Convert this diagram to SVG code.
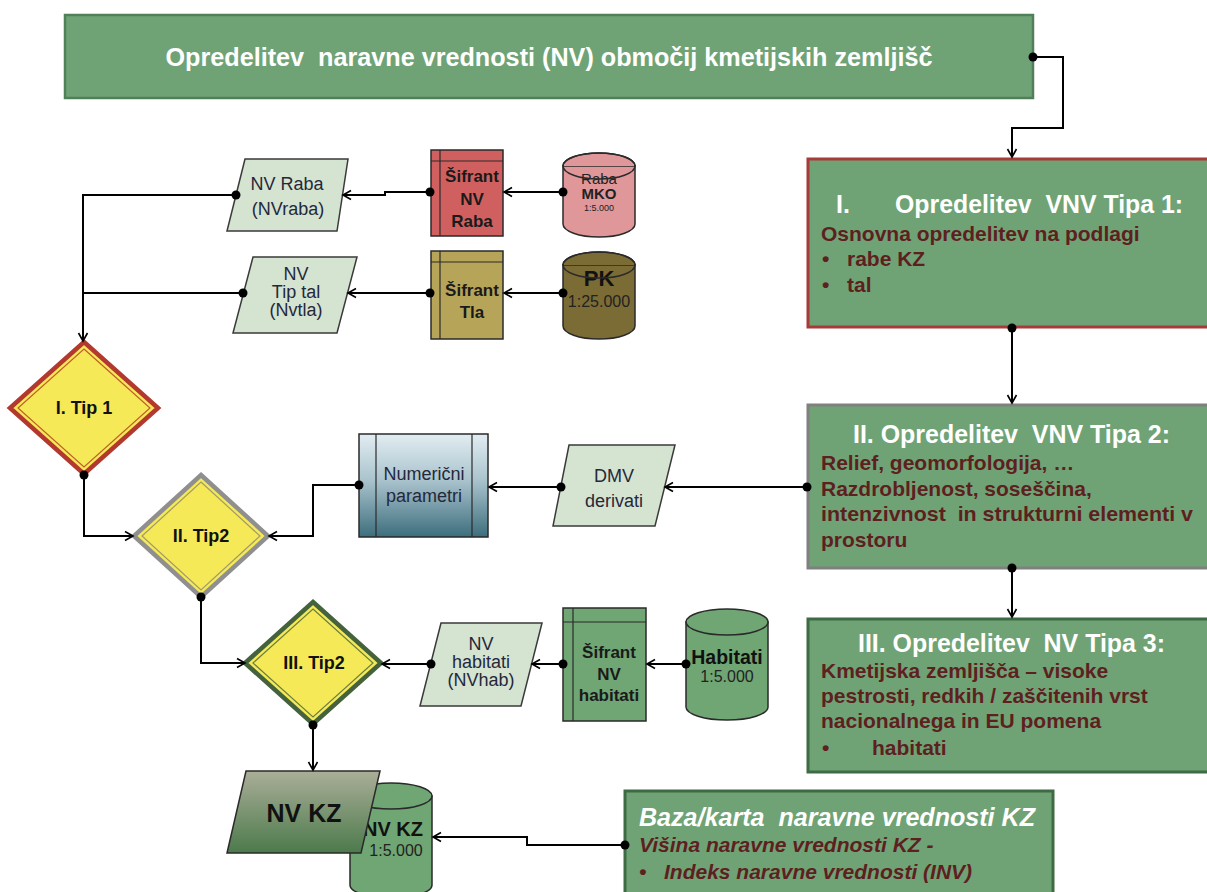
<svg xmlns="http://www.w3.org/2000/svg" width="1207" height="892" viewBox="0 0 1207 892" xml:space="preserve">
<defs>
<marker id="arr" markerUnits="userSpaceOnUse" markerWidth="12" markerHeight="12" refX="10" refY="6" orient="auto">
<path d="M2,1.5 L10,6 L2,10.5" fill="none" stroke="#000" stroke-width="1.6"/>
</marker>
<linearGradient id="gNum" x1="0" y1="0" x2="0" y2="1">
<stop offset="0" stop-color="#e2edf2"/><stop offset="0.45" stop-color="#a9c3cd"/><stop offset="1" stop-color="#3d6e7d"/>
</linearGradient>
<linearGradient id="gKZ" x1="0" y1="0" x2="0" y2="1">
<stop offset="0" stop-color="#aaae98"/><stop offset="1" stop-color="#4c7a4b"/>
</linearGradient>
</defs>
<style>
text{font-family:"Liberation Sans",Arial,sans-serif;white-space:pre}
.gbox{fill:#6fa376}
.ttl{fill:#fff;font-weight:bold;font-size:25px}
.body{fill:#5e1f1f;font-weight:bold;font-size:21px}
.lbl{fill:#25283a;font-size:18px;text-anchor:middle}
.bl{fill:#1a1a1a;font-weight:bold;font-size:17px;text-anchor:middle}
.dtx{fill:#111;font-weight:bold;font-size:18px;text-anchor:middle}
.par{fill:#d5e3d1;stroke:#3a3a3a;stroke-width:1.5}
.cyl{stroke:#2a2a2a;stroke-width:1.5}
.sif{stroke:#2a2a2a;stroke-width:1.5}
.conn path{fill:none;stroke:#000;stroke-width:2}
.conn circle{fill:#000}
</style>
<g id="title">
<rect x="65" y="15" width="968" height="83" class="gbox" stroke="#50805a" stroke-width="2.5"/>
<text x="549" y="66" class="ttl" text-anchor="middle" textLength="767" lengthAdjust="spacingAndGlyphs">Opredelitev  naravne vrednosti (NV) območij kmetijskih zemljišč</text>
</g>
<g id="box1">
<rect x="808" y="159" width="410" height="168" class="gbox" stroke="#a83a3a" stroke-width="3"/>
<text x="836" y="213" class="ttl">I.</text>
<text x="895" y="213" class="ttl" textLength="288" lengthAdjust="spacingAndGlyphs">Opredelitev  VNV Tipa 1:</text>
<text x="821" y="241" class="body">Osnovna opredelitev na podlagi</text>
<text x="822" y="266" class="body">•</text><text x="847" y="266" class="body">rabe KZ</text>
<text x="822" y="292" class="body">•</text><text x="847" y="292" class="body">tal</text>
</g>
<g id="box2">
<rect x="808" y="405" width="410" height="163" class="gbox" stroke="#808080" stroke-width="3"/>
<text x="853" y="443" class="ttl" textLength="317" lengthAdjust="spacingAndGlyphs">II. Opredelitev  VNV Tipa 2:</text>
<text x="821" y="470" class="body">Relief, geomorfologija, …</text>
<text x="821" y="496" class="body">Razdrobljenost, soseščina,</text>
<text x="821" y="521" class="body" textLength="372" lengthAdjust="spacingAndGlyphs">intenzivnost  in strukturni elementi v</text>
<text x="821" y="547" class="body">prostoru</text>
</g>
<g id="box3">
<rect x="808" y="619" width="410" height="153" class="gbox" stroke="#3e6a44" stroke-width="3"/>
<text x="858" y="652" class="ttl" textLength="307" lengthAdjust="spacingAndGlyphs">III. Opredelitev  NV Tipa 3:</text>
<text x="821" y="678" class="body">Kmetijska zemljišča – visoke</text>
<text x="821" y="703" class="body">pestrosti, redkih / zaščitenih vrst</text>
<text x="821" y="728" class="body">nacionalnega in EU pomena</text>
<text x="822" y="755" class="body">•</text><text x="872" y="755" class="body">habitati</text>
</g>
<g id="baza">
<rect x="625" y="791" width="428" height="110" class="gbox" stroke="#3e6a44" stroke-width="3"/>
<text x="639" y="826" class="ttl" font-style="italic" textLength="396" lengthAdjust="spacingAndGlyphs">Baza/karta  naravne vrednosti KZ</text>
<text x="639" y="852" class="body" font-style="italic">Višina naravne vrednosti KZ -</text>
<text x="639" y="879" class="body" font-style="italic">•</text><text x="664" y="879" class="body" font-style="italic">Indeks naravne vrednosti (INV)</text>
</g>
<g id="nv-raba">
<polygon points="245,159 348,159 337,231 227,231" class="par"/>
<text x="287" y="190" class="lbl" font-size="19">NV Raba</text>
<text x="288" y="215" class="lbl" font-size="19">(NVraba)</text>
</g>
<g id="sifrant-raba">
<rect x="431" y="150" width="72" height="86" fill="#d0605f" class="sif"/>
<line x1="440" y1="150" x2="440" y2="236" stroke="#2a2a2a" stroke-width="1.2"/>
<line x1="431" y1="161" x2="503" y2="161" stroke="#2a2a2a" stroke-width="1.2"/>
<text x="472" y="182" class="bl">Šifrant</text>
<text x="472" y="205" class="bl">NV</text>
<text x="472" y="227" class="bl">Raba</text>
</g>
<g id="raba-mko">
<path d="M563,166 V224 A36,13 0 0 0 635,224 V166 Z" fill="#e0979a" class="cyl"/>
<text x="599" y="184" fill="#222" font-size="15" text-anchor="middle">Raba</text>
<text x="599" y="199" fill="#222" font-size="15" font-weight="bold" text-anchor="middle">MKO</text>
<text x="599" y="211" fill="#222" font-size="9" text-anchor="middle">1:5.000</text>
<path d="M563,166 A36,13 0 0 1 635,166" fill="#e0979a" class="cyl"/>
<ellipse cx="599" cy="166" rx="36" ry="13" fill="none" class="cyl"/>
</g>
<g id="nv-tiptal">
<polygon points="253,257 357,257 337,333 233,333" class="par"/>
<text x="296" y="280" class="lbl" font-size="17">NV</text>
<text x="296" y="298" class="lbl" font-size="17">Tip tal</text>
<text x="296" y="316" class="lbl" font-size="17">(Nvtla)</text>
</g>
<g id="sifrant-tla">
<rect x="431" y="251" width="72" height="88" fill="#b6a559" class="sif"/>
<line x1="440" y1="251" x2="440" y2="339" stroke="#2a2a2a" stroke-width="1.2"/>
<line x1="431" y1="262" x2="503" y2="262" stroke="#2a2a2a" stroke-width="1.2"/>
<text x="472" y="296" class="bl">Šifrant</text>
<text x="472" y="318" class="bl">Tla</text>
</g>
<g id="pk">
<path d="M563,265 V326 A36,13 0 0 0 635,326 V265 Z" fill="#7b6b35" class="cyl"/>
<path d="M563,265 A36,13 0 0 1 635,265" fill="#7b6b35" class="cyl"/>
<text x="599" y="286" fill="#111" font-size="22" font-weight="bold" text-anchor="middle">PK</text>
<ellipse cx="599" cy="265" rx="36" ry="13" fill="none" class="cyl"/>
<text x="599" y="307" fill="#222" font-size="16" text-anchor="middle">1:25.000</text>
</g>
<g id="tip1">
<polygon points="84,342 158,408 84,474 10,408" fill="#f6e957" stroke="#b3382d" stroke-width="4.5"/>
<polygon points="84,349 150,408 84,467 18,408" fill="none" stroke="#c0602a" stroke-width="1.2"/>
<text x="84" y="414" class="dtx">I. Tip 1</text>
</g>
<g id="tip2">
<polygon points="201,475 268,536 201,597 134,536" fill="#f6e957" stroke="#8f8f8f" stroke-width="4.5"/>
<polygon points="201,482 260,536 201,590 142,536" fill="none" stroke="#a09a6a" stroke-width="1.2"/>
<text x="201" y="542" class="dtx">II. Tip2</text>
</g>
<g id="tip3">
<polygon points="313,602 381,663 313,724 245,663" fill="#f6e957" stroke="#44633c" stroke-width="4.5"/>
<polygon points="313,609 373,663 313,717 253,663" fill="none" stroke="#6a8040" stroke-width="1.2"/>
<text x="314" y="669" class="dtx">III. Tip2</text>
</g>
<g id="numericni">
<rect x="359" y="434" width="129" height="103" fill="url(#gNum)" class="sif"/>
<line x1="376" y1="434" x2="376" y2="537" stroke="#2a2a2a" stroke-width="1.2"/>
<line x1="472" y1="434" x2="472" y2="537" stroke="#2a2a2a" stroke-width="1.2"/>
<text x="424" y="480" class="lbl" font-size="18.5">Numerični</text>
<text x="424" y="502" class="lbl" font-size="18.5">parametri</text>
</g>
<g id="dmv">
<polygon points="569,445 675,445 655,526 553,526" class="par"/>
<text x="614" y="482" class="lbl" font-size="20">DMV</text>
<text x="614" y="507" class="lbl" font-size="20">derivati</text>
</g>
<g id="nv-habitati">
<polygon points="441,623 542,623 521,706 420,706" class="par"/>
<text x="481" y="650" class="lbl" font-size="16.5">NV</text>
<text x="481" y="668" class="lbl" font-size="16.5">habitati</text>
<text x="481" y="686" class="lbl" font-size="16.5">(NVhab)</text>
</g>
<g id="sifrant-habitati">
<rect x="563" y="608" width="83" height="113" fill="#70a574" class="sif"/>
<line x1="573" y1="608" x2="573" y2="721" stroke="#2a2a2a" stroke-width="1.2"/>
<line x1="563" y1="622" x2="646" y2="622" stroke="#2a2a2a" stroke-width="1.2"/>
<text x="609" y="658" class="bl">Šifrant</text>
<text x="609" y="680" class="bl">NV</text>
<text x="609" y="701" class="bl">habitati</text>
</g>
<g id="habitati">
<path d="M686,622 V707 A41,13 0 0 0 768,707 V622 Z" fill="#70a574" class="cyl"/>
<ellipse cx="727" cy="622" rx="41" ry="13" fill="#70a574" class="cyl"/>
<text x="727" y="664" fill="#111" font-size="19.5" font-weight="bold" text-anchor="middle">Habitati</text>
<text x="727" y="682" fill="#222" font-size="16" text-anchor="middle">1:5.000</text>
</g>
<g id="nvkz-db">
<path d="M350,796 V885 A41,13 0 0 0 432,885 V796 Z" fill="#70a574" class="cyl"/>
<ellipse cx="391" cy="796" rx="41" ry="13" fill="#70a574" class="cyl"/>
<text x="393" y="836" fill="#111" font-size="20" font-weight="bold" text-anchor="middle">NV KZ</text>
<text x="396" y="856" fill="#222" font-size="16" text-anchor="middle">1:5.000</text>
</g>
<g id="nvkz">
<polygon points="246,771 380,771 361,853 227,853" fill="url(#gKZ)" stroke="#2a2a2a" stroke-width="1.5"/>
<text x="304" y="822" fill="#111" font-size="25" font-weight="bold" text-anchor="middle">NV KZ</text>
</g>
<g class="conn" id="connectors">
<path d="M1033,57 H1063 V128 H1012 V157" marker-end="url(#arr)"/><circle cx="1033" cy="57" r="4.5"/>
<path d="M1012,328 V403" marker-end="url(#arr)"/><circle cx="1012" cy="328" r="4.5"/>
<path d="M1012,568 V617" marker-end="url(#arr)"/><circle cx="1012" cy="568" r="4.5"/>
<path d="M807,487 H665" marker-end="url(#arr)"/><circle cx="807" cy="487" r="4.5"/>
<path d="M561,487 H489" marker-end="url(#arr)"/><circle cx="561" cy="487" r="4.5"/>
<path d="M359,485 H313 V536 H269" marker-end="url(#arr)"/><circle cx="359" cy="485" r="4.5"/>
<path d="M84,475 V536 H133" marker-end="url(#arr)"/><circle cx="84" cy="475" r="4.5"/>
<path d="M201,597 V663 H245" marker-end="url(#arr)"/><circle cx="201" cy="597" r="4.5"/>
<path d="M236,195 H83 V341" marker-end="url(#arr)"/><circle cx="236" cy="195" r="4.5"/>
<path d="M243,293 H83"/><circle cx="243" cy="293" r="4.5"/>
<path d="M430,192 H385 V195 H343" marker-end="url(#arr)"/><circle cx="430" cy="192" r="4.5"/>
<path d="M563,192 H504" marker-end="url(#arr)"/><circle cx="563" cy="192" r="4.5"/>
<path d="M430,293 H348" marker-end="url(#arr)"/><circle cx="430" cy="293" r="4.5"/>
<path d="M563,293 H504" marker-end="url(#arr)"/><circle cx="563" cy="293" r="4.5"/>
<path d="M686,664 H647" marker-end="url(#arr)"/><circle cx="686" cy="664" r="4.5"/>
<path d="M563,664 H532" marker-end="url(#arr)"/><circle cx="563" cy="664" r="4.5"/>
<path d="M431,664 H382" marker-end="url(#arr)"/><circle cx="431" cy="664" r="4.5"/>
<path d="M313,725 V770" marker-end="url(#arr)"/><circle cx="313" cy="725" r="4.5"/>
<path d="M625,845 H527 V837 H433" marker-end="url(#arr)"/><circle cx="625" cy="845" r="4.5"/>
</g>
</svg>
